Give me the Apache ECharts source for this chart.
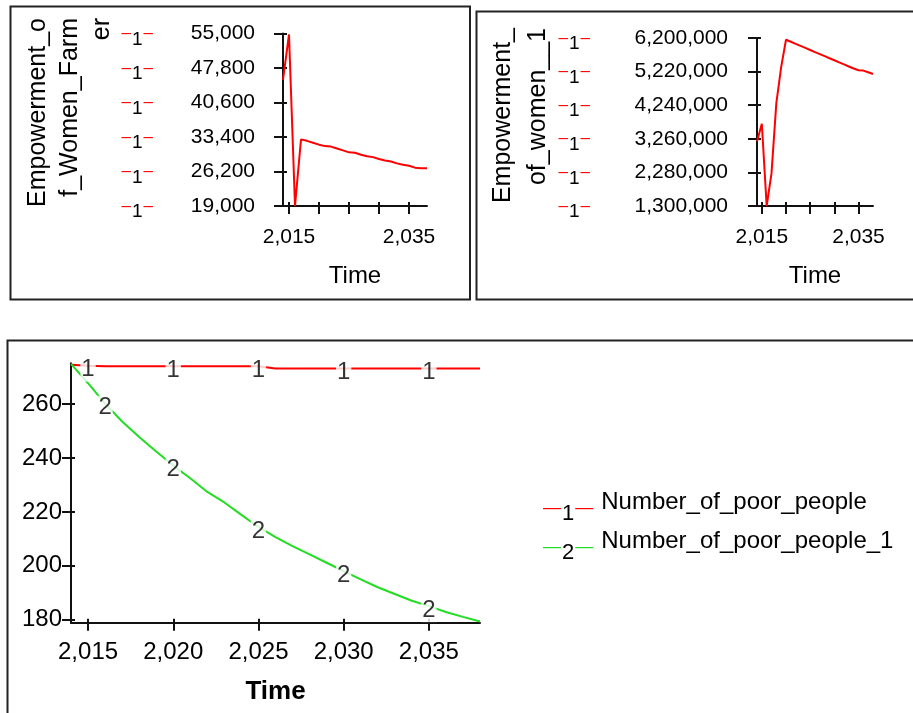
<!DOCTYPE html>
<html>
<head>
<meta charset="utf-8">
<script src="https://cdn.jsdelivr.net/npm/echarts@6/dist/echarts.min.js"></script>
<style>
html, body { margin: 0; padding: 0; background: #fff; }
#chart { width: 913px; height: 713px; }
</style>
</head>
<body>
<div id="chart"></div>
<script>
var years = [2014, 2015, 2016, 2017, 2018, 2019, 2020, 2021, 2022, 2023, 2024, 2025, 2026,
	2027, 2028, 2029, 2030, 2031, 2032, 2033, 2034, 2035, 2036, 2037, 2038];
var farmerValues = [45300, 54800, 19000, 32900, 32600, 32200, 31800, 31500, 31400, 31000, 30600, 30200, 30100,
	29700, 29400, 29200, 28800, 28500, 28300, 27900, 27600, 27400, 27000, 26900, 26900];
var womenValues = [3180000, 3700000, 1300000, 2250000, 4300000, 5350000, 6150000, 6090000, 6030000, 5970000, 5910000, 5850000, 5790000,
	5730000, 5670000, 5610000, 5550000, 5490000, 5430000, 5370000, 5310000, 5260000, 5250000, 5200000, 5150000];
var poorValues = [274.7, 274.3, 274.1, 274.1, 274.1, 274.1, 274.1, 274.1, 274.1, 274.1, 274.1, 274.1, 273.3,
	273.3, 273.3, 273.3, 273.3, 273.3, 273.3, 273.3, 273.3, 273.3, 273.3, 273.3, 273.3];
var poor1Values = [275, 267.8, 260.2, 253.6, 247.8, 242.4, 237.2, 232.5, 227.4, 223.5, 218.9, 214.4, 210.6,
	207.3, 204.2, 201.1, 198.0, 194.9, 192.0, 189.5, 187.0, 185.0, 182.8, 181.0, 179.3];

var farmerTicks = [19000, 26200, 33400, 40600, 47800, 55000];
var womenTicks = [1300000, 2280000, 3260000, 4240000, 5220000, 6200000];
var poorTicks = [180, 200, 220, 240, 260];
var timeTicks = [2015, 2020, 2025, 2030, 2035];
var topTimeLabels = [2015, 2035];
var poorMarkYears = [2015, 2020, 2025, 2030, 2035];
var poor1MarkYears = [2016, 2020, 2025, 2030, 2035];
var seriesNames = ['Number_of_poor_people', 'Number_of_poor_people_1'];

var FONT = '"Liberation Sans", Arial, sans-serif';
var RED = '#ff0000';
var GREEN = '#22dd22';

function pairs(vals) {
	return years.map(function(y, i) { return [y, vals[i]]; });
}
function marks(vals, list) {
	return list.map(function(y) { return [y, vals[years.indexOf(y)]]; });
}
function fmt(v) {
	return Number(v).toLocaleString('en-US');
}

var lineBlack = { color: '#111', width: 2 };

// main axis + a second copy only for the short inner half of each tick
function timeAxes(grid, h, labels, fontSize, margin, nameGap, nameStyle) {
	return [{
		type: 'value', gridIndex: grid, min: 2014, max: 2038,
		axisLine: { lineStyle: lineBlack },
		axisTick: { customValues: timeTicks, length: 8, lineStyle: lineBlack },
		axisLabel: { customValues: labels, formatter: fmt, fontSize: fontSize, margin: margin, color: '#000', fontFamily: FONT },
		splitLine: { show: false },
		name: 'Time', nameLocation: 'middle', nameGap: nameGap, nameTextStyle: nameStyle
	}, {
		type: 'value', gridIndex: grid, min: 2014, max: 2038, position: 'top', offset: -h,
		axisLine: { show: false },
		axisTick: { customValues: timeTicks, length: 4, lineStyle: lineBlack },
		axisLabel: { show: false },
		splitLine: { show: false }
	}];
}

function valueAxes(grid, w, min, max, ticks, label) {
	return [{
		type: 'value', gridIndex: grid, min: min, max: max,
		axisLine: { show: true, lineStyle: lineBlack },
		axisTick: { show: true, customValues: ticks, length: 9, lineStyle: lineBlack },
		axisLabel: label,
		splitLine: { show: false }
	}, {
		type: 'value', gridIndex: grid, min: min, max: max, position: 'right', offset: -w,
		axisLine: { show: false },
		axisTick: { show: true, customValues: ticks, length: 4, lineStyle: lineBlack },
		axisLabel: { show: false },
		splitLine: { show: false }
	}];
}

function markedLabel(valueWidth, margin, ticks) {
	return {
		customValues: ticks, margin: margin,
		formatter: function(v) { return '{d|\u2013}{n|1}{d|\u2013}{v|' + fmt(v) + '}'; },
		rich: {
			d: { color: RED, fontSize: 17, fontFamily: FONT },
			n: { color: '#000', fontSize: 19, fontFamily: FONT, padding: [12, 1, 0, 1] },
			v: { color: '#000', fontSize: 21, fontFamily: FONT, width: valueWidth, align: 'right' }
		}
	};
}

var topName = { fontSize: 24, color: '#000', fontFamily: FONT };
var bottomName = { fontSize: 26, fontWeight: 'bold', color: '#000', fontFamily: FONT };

var xAxes = [].concat(
	timeAxes(0, 172.5, topTimeLabels, 21, 21, 58, topName),
	timeAxes(1, 168, topTimeLabels, 21, 21, 58, topName),
	timeAxes(2, 259.5, timeTicks, 24, 18, 56, bottomName)
);
var yAxes = [].concat(
	valueAxes(0, 144, 19000, 55000, farmerTicks, markedLabel(102, 28, farmerTicks)),
	valueAxes(1, 116, 1300000, 6200000, womenTicks, markedLabel(138, 29, womenTicks)),
	valueAxes(2, 409, 178.8, 275.2, poorTicks, {
		customValues: poorTicks, fontSize: 24, margin: 9, color: '#000', fontFamily: FONT
	})
);

function markSeries(vals, list, text, axis) {
	return {
		type: 'scatter', xAxisIndex: axis, yAxisIndex: axis, symbolSize: 0, z: 5, silent: true,
		data: marks(vals, list),
		label: {
			show: true, position: 'inside', formatter: text, offset: [0, 4],
			fontSize: 24, color: '#000', fontFamily: FONT, backgroundColor: '#fff', padding: [0, 1]
		}
	};
}

var chart = echarts.init(document.getElementById('chart'));
var option = {
	animation: false,
	backgroundColor: '#fff',
	grid: [
		{ left: 283, top: 33.5, width: 144, height: 172.5 },
		{ left: 757, top: 38, width: 116, height: 168 },
		{ left: 71, top: 363.3, width: 409, height: 259.5 }
	],
	xAxis: xAxes,
	yAxis: yAxes,
	legend: {
		data: seriesNames, orient: 'vertical', left: 533, top: 485, itemGap: 4,
		icon: 'none', itemWidth: 0, itemHeight: 10, selectedMode: false,
		formatter: function(name) {
			var c = name === seriesNames[0] ? 'r' : 'g';
			var n = name === seriesNames[0] ? '1' : '2';
			return '{' + c + '|\u2014}{n|' + n + '}{' + c + '|\u2014}{t|' + name + '}';
		},
		textStyle: {
			rich: {
				r: { color: RED, fontSize: 18, fontFamily: FONT },
				g: { color: GREEN, fontSize: 18, fontFamily: FONT },
				n: { color: '#000', fontSize: 22, fontFamily: FONT, padding: [12, 1, 0, 1] },
				t: { color: '#000', fontSize: 24, fontFamily: FONT, padding: [0, 0, 12, 8] }
			}
		}
	},
	graphic: [
		{ type: 'rect', shape: { x: 10.5, y: 6.5, width: 459.5, height: 293 }, style: { fill: 'none', stroke: '#222', lineWidth: 2 } },
		{ type: 'rect', shape: { x: 476.5, y: 11.5, width: 450, height: 288 }, style: { fill: 'none', stroke: '#222', lineWidth: 2 } },
		{ type: 'rect', shape: { x: 7.5, y: 340.5, width: 920, height: 400 }, style: { fill: 'none', stroke: '#222', lineWidth: 2 } },
		{
			type: 'text', x: 22, y: 18, rotation: Math.PI / 2,
			style: { text: 'Empowerment_o\nf_Women_Farm\ner', fontSize: 25, fontFamily: FONT, fill: '#000', align: 'right', verticalAlign: 'top', lineHeight: 32 }
		},
		{
			type: 'text', x: 485.5, y: 28, rotation: Math.PI / 2,
			style: { text: 'Empowerment_\nof_women__1', fontSize: 25, fontFamily: FONT, fill: '#000', align: 'right', verticalAlign: 'top', lineHeight: 35 }
		}
	],
	series: [{
		type: 'line', xAxisIndex: 0, yAxisIndex: 0, data: pairs(farmerValues),
		symbol: 'none', lineStyle: { color: RED, width: 2 }, itemStyle: { color: RED }
	}, {
		type: 'line', xAxisIndex: 2, yAxisIndex: 2, data: pairs(womenValues),
		symbol: 'none', lineStyle: { color: RED, width: 2 }, itemStyle: { color: RED }
	}, {
		name: seriesNames[0], type: 'line', xAxisIndex: 4, yAxisIndex: 4, data: pairs(poorValues),
		symbol: 'none', lineStyle: { color: RED, width: 2 }, itemStyle: { color: RED }
	}, {
		name: seriesNames[1], type: 'line', xAxisIndex: 4, yAxisIndex: 4, data: pairs(poor1Values),
		symbol: 'none', lineStyle: { color: GREEN, width: 2 }, itemStyle: { color: GREEN }
	},
		markSeries(poorValues, poorMarkYears, '1', 4),
		markSeries(poor1Values, poor1MarkYears, '2', 4)
	]
};
chart.setOption(option);
</script>
</body>
</html>
